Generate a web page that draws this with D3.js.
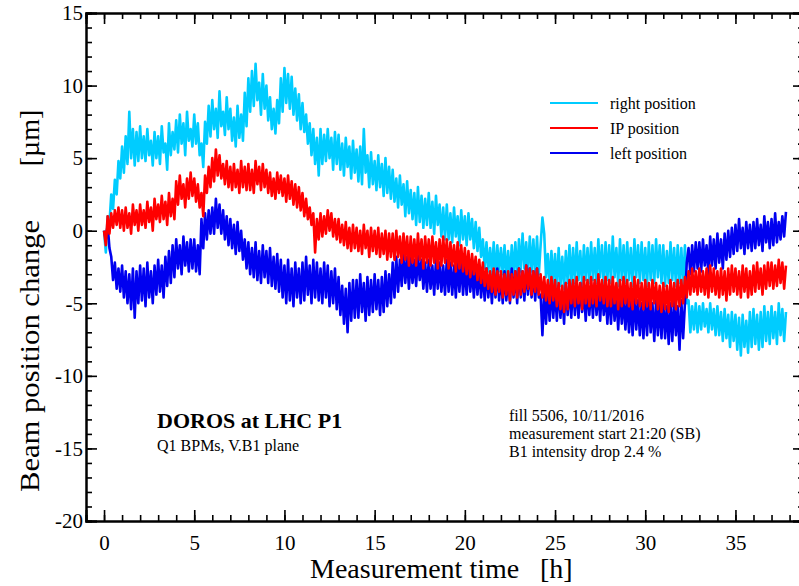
<!DOCTYPE html>
<html>
<head>
<meta charset="utf-8">
<script src="https://cdn.jsdelivr.net/npm/d3@7"></script>
<style>
  html, body { margin: 0; padding: 0; background: #fff; }
  svg { display: block; font-family: "Liberation Serif", "Times New Roman", serif; }
</style>
</head>
<body>
<svg id="chart" width="799" height="586"></svg>
<script>
const sampleStep = 0.1; // hours between samples

const rightPosition = [
  0.0,-1.5,1.0,0.5,2.5,1.5,3.5,2.5,4.8,3.6,
  5.8,4.0,6.5,4.6,8.2,5.0,7.0,4.5,6.8,4.8,
  7.2,5.0,6.5,4.8,7.0,5.2,6.2,4.5,6.8,5.0,
  6.5,4.6,7.2,5.4,6.0,4.2,7.4,5.2,6.8,5.6,
  7.6,5.4,8.0,6.0,7.4,5.2,8.2,6.2,7.0,5.8,
  8.0,6.0,7.4,5.2,6.0,4.4,7.5,6.0,8.6,6.5,
  9.0,7.0,8.4,6.4,9.6,7.2,8.2,6.6,9.2,7.0,
  8.4,6.2,7.8,5.8,8.6,6.4,8.0,6.2,9.5,7.2,
  10.5,8.2,11.0,8.6,11.5,9.0,10.2,8.0,10.8,8.4,
  10.0,7.6,9.2,7.0,8.4,6.7,9.0,7.4,10.5,8.2,
  11.2,8.8,10.8,8.4,10.6,8.0,9.8,7.6,9.4,7.0,
  8.8,6.8,8.0,6.0,7.4,5.2,7.0,4.6,6.4,3.8,
  7.0,4.6,6.6,4.8,7.0,5.0,6.4,4.2,6.8,4.6,
  6.6,4.2,6.0,3.8,6.4,4.4,5.8,3.6,6.2,4.0,
  5.6,3.4,5.8,3.2,7.0,4.0,5.2,3.0,5.4,3.2,
  4.8,2.8,5.2,3.0,4.6,2.4,5.0,2.6,4.4,2.2,
  4.2,2.0,3.6,1.6,3.8,1.8,3.2,1.0,3.4,1.2,
  2.8,0.8,2.6,0.4,3.0,0.6,2.4,0.2,2.2,0.4,
  2.6,0.2,2.0,-0.2,2.4,0.4,1.8,-0.4,1.6,-0.6,
  1.8,-0.6,1.2,-0.8,1.6,-0.4,1.0,-1.0,1.4,-0.6,
  1.0,-1.0,1.2,-0.6,0.8,-1.2,0.6,-1.4,0.2,-1.8,
  -0.6,-2.6,-0.8,-2.8,-1.2,-3.0,-0.8,-3.2,-1.0,-2.8,
  -1.2,-3.0,-1.0,-3.2,-1.4,-3.4,-1.0,-3.0,-0.8,-3.2,
  -0.6,-2.8,-0.2,-2.6,-0.8,-3.0,-0.4,-2.8,-0.6,-3.2,
  -0.4,-3.0,-1.0,0.9,-0.2,-3.2,-1.6,-3.8,-1.4,-3.6,
  -1.6,-4.0,-1.2,-3.8,-1.8,-4.0,-1.4,-3.6,-1.0,-3.8,
  -1.2,-3.6,-0.8,-3.4,-1.4,-3.8,-1.0,-3.4,-1.2,-3.6,
  -0.8,-3.4,-1.2,-3.6,-0.6,-3.2,-1.0,-3.8,-0.8,-3.4,
  -1.0,-3.6,-0.4,-3.2,-1.2,-3.8,-0.6,-3.4,-1.0,-3.6,
  -0.8,-3.4,-1.2,-3.8,-0.6,-3.2,-1.0,-3.6,-0.8,-3.4,
  -1.2,-3.8,-0.8,-3.4,-1.0,-3.6,-0.6,-3.2,-1.0,-3.6,
  -1.0,-3.8,-1.4,-3.6,-0.8,-3.4,-1.2,-3.8,-1.0,-3.6,
  -1.2,-3.8,-1.0,-5.0,-4.8,-7.0,-5.2,-6.8,-5.0,-7.0,
  -5.2,-6.8,-5.0,-6.6,-5.4,-7.0,-5.0,-6.8,-5.4,-7.2,
  -5.2,-7.2,-5.6,-7.6,-5.4,-7.4,-5.8,-8.0,-5.6,-7.6,
  -5.8,-8.2,-6.0,-8.6,-5.8,-8.0,-6.2,-8.4,-5.6,-8.0,
  -5.4,-7.8,-5.8,-8.2,-5.6,-8.0,-5.2,-7.6,-5.6,-7.8,
  -5.2,-7.4,-5.6,-7.8,-5.0,-7.2,-5.4,-7.6,-5.6
];

const ipPosition = [
  0.0,-1.0,1.0,-0.2,1.2,0.2,1.4,0.4,1.6,0.2,
  1.4,0.0,1.6,0.2,1.2,-0.2,1.8,0.4,1.4,0.0,
  1.8,0.4,1.4,0.2,2.0,0.6,1.6,0.0,2.2,0.8,
  1.8,0.6,2.4,0.8,2.0,0.4,2.6,1.0,2.2,0.8,
  3.4,1.8,3.8,2.2,3.2,1.6,3.6,2.2,4.0,2.4,
  3.6,2.0,3.2,1.6,2.6,1.0,3.8,2.6,4.4,3.0,
  5.0,3.4,5.6,3.8,5.2,3.6,4.6,3.2,4.8,3.0,
  4.4,2.8,4.6,3.0,4.2,2.6,4.8,3.0,4.4,2.8,
  4.6,2.8,4.2,2.6,4.8,3.2,4.4,2.8,4.6,3.0,
  4.2,2.6,4.0,2.4,3.6,2.2,4.0,2.6,3.8,2.4,
  3.6,2.0,3.8,2.2,3.4,1.8,3.2,1.6,3.0,1.4,
  2.6,1.0,2.2,0.8,1.6,0.4,1.2,-1.5,0.8,-0.6,
  1.2,-0.4,1.0,-0.2,1.4,0.0,1.2,-0.4,0.8,-0.6,
  0.8,-0.8,0.4,-1.0,0.6,-1.2,0.2,-1.4,0.4,-1.2,
  0.2,-1.4,0.0,-1.6,0.4,-1.2,0.0,-1.8,0.2,-1.4,
  0.0,-1.6,0.2,-1.8,-0.2,-1.6,0.0,-2.0,-0.2,-1.8,
  -0.2,-2.0,0.0,-1.8,-0.4,-2.2,-0.2,-2.0,-0.4,-2.4,
  -0.4,-2.2,-0.6,-2.4,-0.2,-2.0,-0.6,-2.6,-0.4,-2.2,
  -0.6,-2.4,-0.4,-2.2,-0.8,-2.6,-0.6,-2.4,-0.4,-2.2,
  -0.6,-2.6,-0.8,-2.4,-1.0,-2.8,-0.8,-2.6,-1.0,-2.8,
  -1.2,-3.0,-1.4,-3.2,-1.6,-3.0,-1.8,-3.4,-2.0,-3.6,
  -2.2,-3.8,-2.6,-4.0,-2.8,-4.2,-2.6,-4.4,-2.8,-4.2,
  -2.8,-4.6,-3.0,-4.4,-2.8,-4.8,-3.0,-4.4,-2.8,-4.6,
  -2.6,-4.4,-2.8,-4.2,-2.4,-4.0,-2.6,-4.4,-2.8,-4.2,
  -2.6,-4.4,-3.0,-4.6,-3.2,-4.8,-3.4,-5.0,-3.2,-4.8,
  -3.4,-5.2,-3.6,-5.4,-3.8,-5.6,-3.6,-5.4,-3.4,-5.0,
  -3.4,-5.2,-3.2,-5.0,-3.6,-5.4,-3.2,-5.0,-3.4,-5.2,
  -3.2,-5.0,-3.4,-5.2,-3.0,-4.8,-3.4,-5.0,-3.2,-5.2,
  -3.4,-5.2,-3.2,-5.0,-3.6,-5.4,-3.4,-5.2,-3.2,-5.0,
  -3.4,-5.2,-3.6,-5.4,-3.2,-5.0,-3.4,-5.2,-3.6,-5.4,
  -3.4,-5.2,-3.6,-5.4,-3.4,-5.0,-3.6,-5.4,-3.8,-5.6,
  -3.6,-5.4,-3.8,-5.6,-3.4,-5.2,-3.6,-5.4,-3.4,-5.2,
  -3.4,-5.0,-3.2,-4.6,-2.8,-4.4,-2.6,-4.2,-2.8,-4.4,
  -2.6,-4.2,-2.8,-4.4,-2.6,-4.6,-2.4,-4.2,-2.6,-4.4,
  -2.8,-4.6,-2.6,-4.4,-2.8,-4.8,-2.6,-4.4,-2.4,-4.2,
  -2.6,-4.4,-2.8,-4.6,-2.4,-4.2,-2.6,-4.6,-2.8,-4.4,
  -2.4,-4.2,-2.2,-4.0,-2.6,-4.4,-2.4,-4.0,-2.2,-3.8,
  -2.2,-4.0,-2.4,-3.8,-2.0,-3.6,-2.2,-4.0,-2.4
];

const leftPosition = [
  0.0,-0.6,0.4,-1.2,-1.8,-3.4,-2.2,-4.0,-2.6,-4.2,
  -2.4,-4.6,-2.8,-5.0,-3.0,-5.4,-2.6,-6.0,-2.8,-5.0,
  -2.4,-4.8,-2.6,-5.2,-2.2,-4.6,-2.8,-5.0,-2.4,-4.4,
  -2.0,-4.2,-2.4,-4.6,-1.8,-3.8,-1.4,-3.6,-1.0,-3.2,
  -0.6,-2.6,-1.0,-3.0,-0.4,-2.4,-0.8,-2.8,-0.6,-2.6,
  -0.6,-2.8,-1.0,-3.0,0.8,-1.2,1.2,-0.6,1.4,-0.2,
  1.6,-0.2,2.2,0.2,1.8,-0.2,1.4,-0.6,1.0,-1.0,
  0.8,-1.2,0.4,-1.6,0.6,-1.4,0.0,-2.0,-0.6,-2.6,
  -0.8,-3.0,-1.2,-3.2,-0.8,-3.4,-1.4,-3.6,-1.0,-3.2,
  -1.4,-3.6,-1.2,-3.8,-1.8,-4.0,-1.6,-4.2,-2.0,-4.6,
  -2.4,-5.0,-2.0,-4.8,-2.6,-5.2,-2.2,-4.6,-2.6,-5.0,
  -2.2,-4.8,-1.8,-4.4,-2.4,-5.0,-2.0,-4.6,-2.2,-4.8,
  -2.6,-5.0,-2.2,-4.6,-2.4,-5.2,-2.8,-5.0,-2.6,-5.4,
  -3.2,-5.8,-3.8,-6.4,-4.0,-7.0,-3.6,-6.2,-3.4,-6.0,
  -3.4,-6.0,-3.0,-5.6,-3.6,-6.2,-3.2,-5.8,-3.4,-5.6,
  -3.0,-5.4,-3.4,-5.8,-3.2,-5.6,-2.8,-5.2,-3.0,-5.0,
  -2.2,-4.6,-1.8,-4.2,-2.0,-3.8,-1.6,-3.6,-1.8,-4.0,
  -1.8,-3.6,-2.0,-3.8,-1.6,-3.4,-2.0,-4.0,-2.2,-4.2,
  -2.0,-4.0,-2.4,-4.4,-2.0,-4.0,-2.2,-4.2,-2.4,-4.4,
  -2.0,-4.2,-2.2,-4.4,-2.4,-4.6,-2.2,-4.2,-2.0,-4.4,
  -2.4,-4.4,-2.2,-4.2,-2.6,-4.6,-2.4,-4.4,-2.6,-4.6,
  -2.8,-4.8,-2.6,-4.6,-3.0,-5.0,-2.8,-4.6,-2.6,-4.8,
  -3.0,-5.0,-2.8,-4.8,-3.0,-5.0,-2.6,-4.6,-2.8,-5.0,
  -2.6,-4.6,-2.8,-4.8,-2.4,-4.4,-2.6,-4.6,-2.8,-4.8,
  -2.6,-4.6,-4.4,-7.2,-4.2,-6.4,-4.0,-6.2,-3.8,-6.0,
  -4.0,-6.2,-3.8,-6.0,-4.2,-6.4,-3.6,-5.8,-3.8,-6.0,
  -3.6,-5.8,-3.8,-6.0,-3.6,-5.6,-4.0,-6.2,-3.8,-5.8,
  -3.8,-6.0,-3.6,-5.8,-4.0,-6.2,-3.8,-5.8,-4.2,-6.4,
  -4.2,-6.4,-4.0,-6.2,-4.4,-6.8,-4.2,-6.4,-4.6,-6.8,
  -4.6,-7.0,-4.8,-7.2,-4.4,-6.8,-4.8,-7.2,-5.0,-7.4,
  -4.8,-7.2,-4.6,-7.0,-5.0,-7.6,-4.8,-7.2,-5.0,-7.4,
  -4.8,-7.4,-5.2,-7.8,-5.0,-7.6,-4.8,-7.2,-5.2,-8.2,
  -4.8,-7.4,-5.0,-2.2,-1.2,-3.0,-1.0,-2.8,-0.8,-2.6,
  -0.8,-2.8,-0.6,-2.4,-1.0,-3.0,-0.4,-2.4,-0.6,-2.6,
  -0.2,-2.2,-0.6,-2.6,-0.2,-2.0,0.0,-1.8,0.2,-1.6,
  0.4,-1.4,0.8,-1.2,0.2,-1.6,0.6,-1.2,0.4,-1.4,
  0.6,-1.2,0.8,-1.0,0.4,-1.4,1.0,-0.8,0.6,-1.2,
  0.8,-1.0,1.2,-0.8,0.6,-0.6,1.0,-0.4,1.3
];

const seriesNames  = ["right position", "IP position", "left position"];
const seriesColors = ["#00ccff", "#ff0000", "#0000f0"];
const xMajorTicks = [0, 5, 10, 15, 20, 25, 30, 35];
const yMajorTicks = [-20, -15, -10, -5, 0, 5, 10, 15];
const xMinorTicks = d3.range(-1, 39, 1);
const yMinorTicks = d3.range(-20, 16, 1);

// ---------------- layout ----------------
const svg = d3.select("#chart");
const mLeft = 86, mRight = 804, mTop = 13, mBottom = 521;

const x = d3.scaleLinear().domain([-1, 38.8]).range([mLeft, mRight]);
const y = d3.scaleLinear().domain([-20, 15]).range([mBottom, mTop]);

// ---------------- series ----------------
const drawOrder = [
  { data: rightPosition, color: seriesColors[0] },
  { data: leftPosition,  color: seriesColors[2] },
  { data: ipPosition,    color: seriesColors[1] }
];
const line = d3.line()
  .x((d, i) => x(i * sampleStep))
  .y(d => y(d));

const plot = svg.append("g");
drawOrder.forEach(s => {
  plot.append("path")
    .datum(s.data)
    .attr("d", line)
    .attr("fill", "none")
    .attr("stroke", s.color)
    .attr("stroke-width", 2.6)
    .attr("stroke-linejoin", "round");
});

// ---------------- axes ----------------
const fmt = d => String(d);
function styleAxis(g) {
  g.select(".domain").attr("stroke", "#000").attr("stroke-width", 2);
  g.selectAll(".tick line").attr("stroke", "#000").attr("stroke-width", 1.6);
  g.selectAll(".tick text").attr("fill", "#000")
    .style("font-family", "'Liberation Serif', 'Times New Roman', serif")
    .style("font-size", "21px");
}
// minor ticks
svg.append("g").attr("transform", `translate(0,${mBottom})`)
  .call(d3.axisBottom(x).tickValues(xMinorTicks).tickSize(-6).tickFormat(""))
  .call(styleAxis);
svg.append("g").attr("transform", `translate(0,${mTop})`)
  .call(d3.axisTop(x).tickValues(xMinorTicks).tickSize(-6).tickFormat(""))
  .call(styleAxis);
svg.append("g").attr("transform", `translate(${mLeft},0)`)
  .call(d3.axisLeft(y).tickValues(yMinorTicks).tickSize(-6).tickFormat(""))
  .call(styleAxis);
svg.append("g").attr("transform", `translate(${mRight},0)`)
  .call(d3.axisRight(y).tickValues(yMinorTicks).tickSize(-6).tickFormat(""))
  .call(styleAxis);
// major ticks
svg.append("g").attr("transform", `translate(0,${mBottom})`)
  .call(d3.axisBottom(x).tickValues(xMajorTicks).tickSize(-11).tickPadding(14).tickFormat(fmt))
  .call(styleAxis);
svg.append("g").attr("transform", `translate(0,${mTop})`)
  .call(d3.axisTop(x).tickValues(xMajorTicks).tickSize(-11).tickFormat(""))
  .call(styleAxis);
svg.append("g").attr("transform", `translate(${mLeft},0)`)
  .call(d3.axisLeft(y).tickValues(yMajorTicks).tickSize(-11).tickPadding(3).tickFormat(fmt))
  .call(styleAxis);
svg.append("g").attr("transform", `translate(${mRight},0)`)
  .call(d3.axisRight(y).tickValues(yMajorTicks).tickSize(-11).tickFormat(""))
  .call(styleAxis);

// ---------------- axis titles ----------------
svg.append("text").attr("x", 310).attr("y", 578)
  .style("font-size", "28px").text("Measurement time");
svg.append("text").attr("x", 540).attr("y", 578)
  .style("font-size", "28px").text("[h]");

svg.append("text")
  .attr("transform", "translate(39,356) rotate(-90)")
  .attr("text-anchor", "middle")
  .attr("textLength", 272).attr("lengthAdjust", "spacingAndGlyphs")
  .style("font-size", "28px").text("Beam position change");
svg.append("text")
  .attr("transform", "translate(39,138) rotate(-90)")
  .attr("text-anchor", "middle")
  .style("font-size", "28px").text("[µm]");

// ---------------- legend ----------------
const legendRows = [0, 1, 2];
const legendY = d3.scalePoint().domain(legendRows).range([103, 153]);
const lg = svg.append("g");
legendRows.forEach(i => {
  lg.append("line")
    .attr("x1", 550).attr("x2", 598)
    .attr("y1", legendY(i)).attr("y2", legendY(i))
    .attr("stroke", seriesColors[i]).attr("stroke-width", 2.2);
  lg.append("text")
    .attr("x", 610).attr("y", legendY(i) + 6)
    .style("font-size", "16px").text(seriesNames[i]);
});

// ---------------- annotations ----------------
svg.append("text").attr("x", 157).attr("y", 428)
  .style("font-size", "22px").style("font-weight", "bold").text("DOROS at LHC P1");
svg.append("text").attr("x", 157).attr("y", 451)
  .style("font-size", "16px").text("Q1 BPMs, V.B1 plane");

const infoLines = ["fill 5506, 10/11/2016", "measurement start 21:20 (SB)", "B1 intensity drop 2.4 %"];
infoLines.forEach((t, i) => {
  svg.append("text").attr("x", 509).attr("y", 421 + i * 18)
    .style("font-size", "16px").text(t);
});
</script>
</body>
</html>
